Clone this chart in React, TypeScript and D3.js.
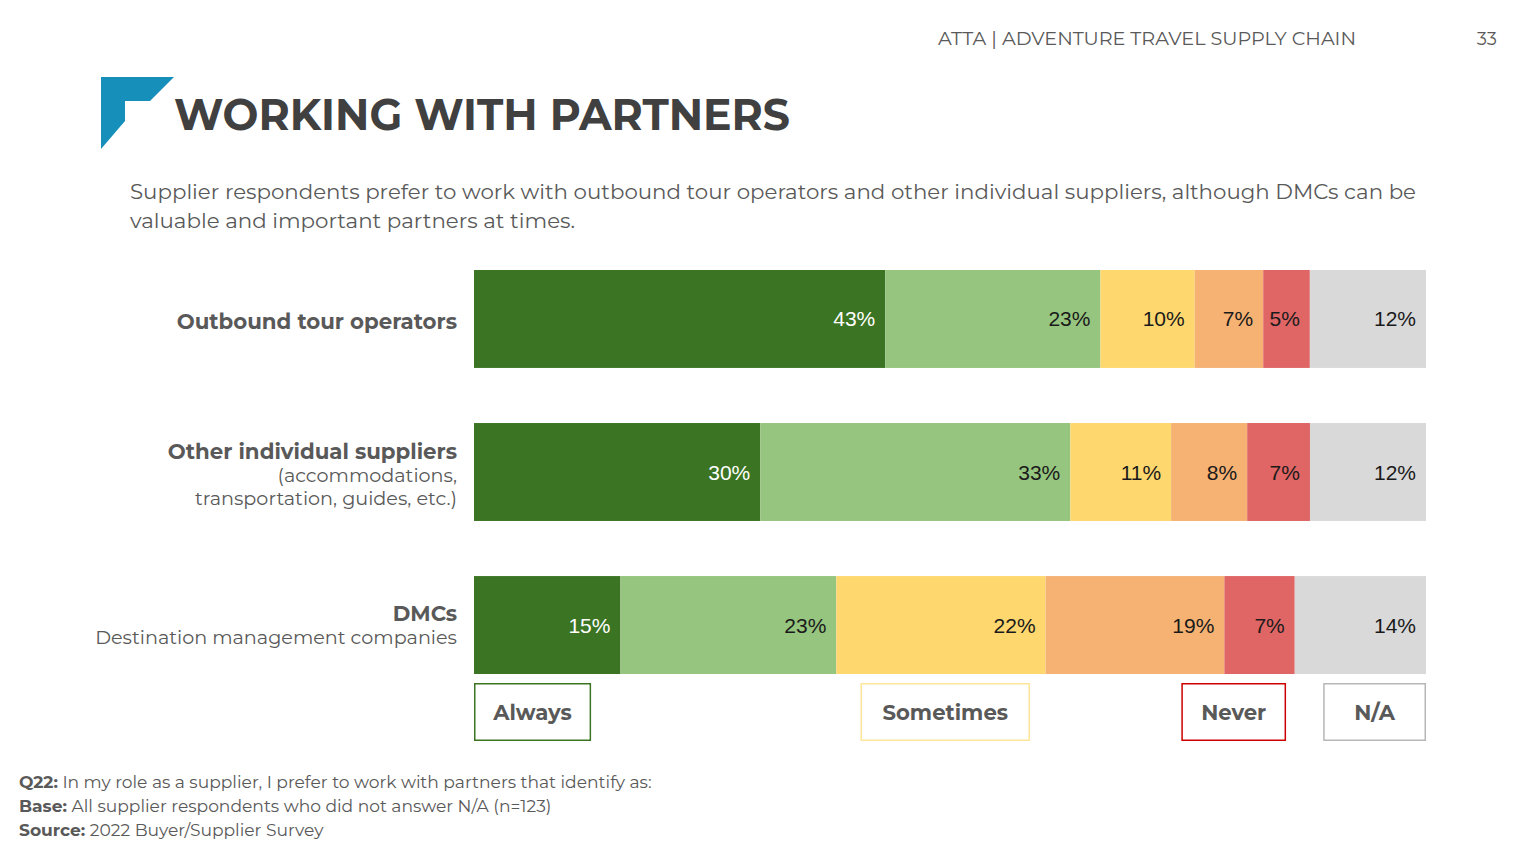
import * as d3 from 'd3'

// survey answers, left to right in every bar
const answers = ['Always', 'Often', 'Sometimes', 'Rarely', 'Never', 'N/A']
const answerColors = ['#3b7422', '#96c57f', '#fed76f', '#f5b273', '#e06666', '#d9d9d9']

const categories = ['Outbound tour operators', 'Other individual suppliers', 'DMCs']
const categoryNotes = [[], ['(accommodations,', 'transportation, guides, etc.)'], ['Destination management companies']]

const outbound = [43.2, 22.6, 9.9, 7.2, 4.9, 12.2]
const otherSuppliers = [30.1, 32.6, 10.6, 8.0, 6.6, 12.2]
const dmcs = [15.4, 22.7, 22.0, 18.8, 7.4, 13.8]
const outboundLabels = ['43%', '23%', '10%', '7%', '5%', '12%']
const otherLabels = ['30%', '33%', '11%', '8%', '7%', '12%']
const dmcLabels = ['15%', '23%', '22%', '19%', '7%', '14%']

// legend: only four answers get a box, placed along the same share axis
const legendItems = ['Always', 'Sometimes', 'Never', 'N/A']
const legendStart = [0, 0.406, 0.743, 0.892]
const legendEnd = [0.123, 0.584, 0.853, 1]
const legendStroke = ['#3b7422', '#ffe599', '#cc0000', '#b7b7b7']

const font = "Montserrat, 'DejaVu Sans', sans-serif"
const textColor = '#595959'

export default function App() {
  const width = 1534
  const height = 860

  const rows = [outbound, otherSuppliers, dmcs]
  const rowLabels = [outboundLabels, otherLabels, dmcLabels]
  const table = rows.map((values, i) => {
    const row: Record<string, any> = { category: categories[i] }
    answers.forEach((a, j) => (row[a] = values[j]))
    return row
  })
  const series = d3.stack().keys(answers).offset(d3.stackOffsetExpand)(table as any)

  const x = d3.scaleLinear([0, 1], [474, 1426])
  const y = d3.scaleBand(categories, [270, 674]).paddingInner(0.36).paddingOuter(0)
  const color = d3.scaleOrdinal(answers, answerColors)

  return (
    <svg width={width} height={height} style={{ position: 'absolute', left: 0, top: 0, background: '#fff' }} fontFamily={font}>
      {/* header */}
      <text x={938} y={45} fontSize={18} fill={textColor} textLength={418} lengthAdjust="spacingAndGlyphs">
        ATTA | ADVENTURE TRAVEL SUPPLY CHAIN
      </text>
      <text x={1497} y={45} fontSize={18} fill={textColor} textAnchor="end">33</text>

      <path d="M101,77 L174,77 L150,101 L125,101 L125,121 L101,149 Z" fill="#1690bb" />
      <text x={174} y={130} fontSize={44} fontWeight="bold" fill="#404040" textLength={616} lengthAdjust="spacingAndGlyphs">
        WORKING WITH PARTNERS
      </text>

      <text x={130} y={199} fontSize={20} fill={textColor} textLength={1286} lengthAdjust="spacingAndGlyphs">
        Supplier respondents prefer to work with outbound tour operators and other individual suppliers, although DMCs can be
      </text>
      <text x={130} y={228} fontSize={20} fill={textColor} textLength={445} lengthAdjust="spacingAndGlyphs">
        valuable and important partners at times.
      </text>

      {/* category labels */}
      {categories.map((c, i) => {
        const lines = [c, ...categoryNotes[i]]
        const cy = (y(c) ?? 0) + y.bandwidth() / 2
        return (
          <g key={c}>
            {lines.map((line, k) => (
              <text
                key={k}
                x={457}
                y={cy + (k - (lines.length - 1) / 2) * 23.5 + (lines.length === 2 ? 0 : 2.5)}
                dominantBaseline="central"
                textAnchor="end"
                fontSize={k === 0 ? 21.3 : 19.2}
                fontWeight={k === 0 ? 'bold' : 'normal'}
                fill={textColor}
              >
                {line}
              </text>
            ))}
          </g>
        )
      })}

      {/* stacked bars */}
      {series.map((s) => (
        <g key={s.key} fill={color(s.key)}>
          {s.map((d, i) => (
            <rect key={i} x={x(d[0])} y={y(categories[i])} width={x(d[1]) - x(d[0])} height={y.bandwidth()} />
          ))}
        </g>
      ))}
      {series.map((s, j) => (
        <g key={s.key + '-labels'}>
          {s.map((d, i) => (
            <text
              key={i}
              x={x(d[1]) - 10}
              y={(y(categories[i]) ?? 0) + y.bandwidth() / 2}
              dominantBaseline="central"
              textAnchor="end"
              fontFamily="'Liberation Sans', Arial, sans-serif"
              fontSize={21}
              fill={j === 0 ? '#ffffff' : '#1a1a1a'}
            >
              {rowLabels[i][j]}
            </text>
          ))}
        </g>
      ))}

      {/* legend */}
      {legendItems.map((item, k) => (
        <g key={item}>
          <rect
            x={x(legendStart[k]) + 0.75}
            y={683.75}
            width={x(legendEnd[k]) - x(legendStart[k]) - 1.5}
            height={56.5}
            fill="#fff"
            stroke={legendStroke[k]}
            strokeWidth={1.5}
          />
          <text
            x={(x(legendStart[k]) + x(legendEnd[k])) / 2}
            y={712}
            dominantBaseline="central"
            textAnchor="middle"
            fontSize={21.2}
            fontWeight="bold"
            fill={textColor}
          >
            {item}
          </text>
        </g>
      ))}

      {/* footnotes */}
      <g fontSize={17.1} fill={textColor}>
        <text x={19} y={788}>
          <tspan fontWeight="bold">Q22:</tspan> In my role as a supplier, I prefer to work with partners that identify as:
        </text>
        <text x={19} y={812}>
          <tspan fontWeight="bold">Base:</tspan> All supplier respondents who did not answer N/A (n=123)
        </text>
        <text x={19} y={836}>
          <tspan fontWeight="bold">Source:</tspan> 2022 Buyer/Supplier Survey
        </text>
      </g>
    </svg>
  )
}
